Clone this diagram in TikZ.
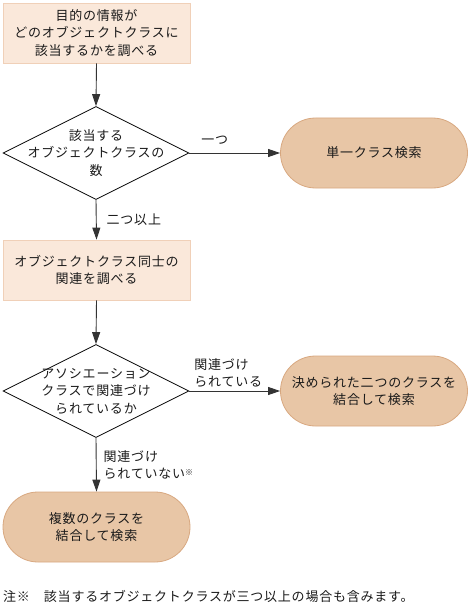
\documentclass[tikz,border=0pt]{standalone}
\usepackage{fontspec}
\setmainfont[LetterSpace=6]{Noto Sans CJK JP}
\usetikzlibrary{shapes.geometric,arrows.meta}
\definecolor{boxfill}{HTML}{FAE8DA}
\definecolor{boxline}{HTML}{F0D0B8}
\definecolor{termfill}{HTML}{E8C6A6}
\definecolor{termline}{HTML}{D8A880}
\definecolor{txt}{HTML}{1A1A1A}
\definecolor{conn}{HTML}{333333}
\tikzset{
  every node/.style={text=txt,font=\fontsize{13}{17.5}\selectfont},
  procbox/.style={draw=boxline,fill=boxfill,line width=0.8pt,minimum width=187pt,minimum height=60pt,align=center,inner sep=0pt},
  termbox/.style={draw=termline,fill=termfill,line width=0.8pt,rounded corners=35pt,minimum width=187pt,minimum height=70pt,align=center,inner sep=0pt},
  decbox/.style={draw=black,line width=0.8pt,shape=diamond,minimum width=186pt,minimum height=93pt,inner sep=0pt},
  conn/.style={draw=conn,line width=0.9pt,-{Triangle[length=12pt,width=8pt]}},
  lbl/.style={align=left,inner sep=0pt}
}
\begin{document}
\begin{tikzpicture}[x=1pt,y=-1pt]
\useasboundingbox (0,0) rectangle (471,607);
\node[procbox] (b1) at (96.5,33) {目的の情報が\\どのオブジェクトクラスに\\該当するかを調べる};
\node[decbox] (d1) at (96,153) {};
\node[align=center,inner sep=0pt] (d1t) at (96,153) {該当する\\オブジェクトクラスの\\数};
\node[termbox] (t1) at (374,153) {単一クラス検索};
\node[procbox] (b2) at (96.5,270) {オブジェクトクラス同士の\\関連を調べる};
\node[decbox] (d2) at (96,391) {};
\node[align=center,inner sep=0pt] (d2t) at (96,391) {アソシエーション\\クラスで関連づけ\\られているか};
\node[termbox] (t2) at (374,391) {決められた二つのクラスを\\結合して検索};
\node[termbox] (t3) at (96.5,527) {複数のクラスを\\結合して検索};
\draw[conn] (b1.south) -- (d1.north);
\draw[conn] (d1.east) -- (t1.west) node[pos=0.28,lbl,anchor=south,yshift=8pt] (l1) {一つ};
\draw[conn] (d1.south) -- (b2.north) node[midway,lbl,anchor=west,xshift=10pt] (l2) {二つ以上};
\draw[conn] (b2.south) -- (d2.north);
\draw[conn] (d2.east) -- (t2.west) node[pos=0.05,lbl,anchor=south west,yshift=3pt] (l3) {関連づけ\\られている};
\draw[conn] (d2.south) -- (t3.north) node[midway,lbl,anchor=west,xshift=7pt] (l4) {関連づけ\\られていない{\fontsize{8}{8}\selectfont\raisebox{3pt}{※}}};
\node[anchor=west,inner sep=0pt] (note) at (3,596) {注※\hspace{14pt}該当するオブジェクトクラスが三つ以上の場合も含みます。};
\end{tikzpicture}
\end{document}
